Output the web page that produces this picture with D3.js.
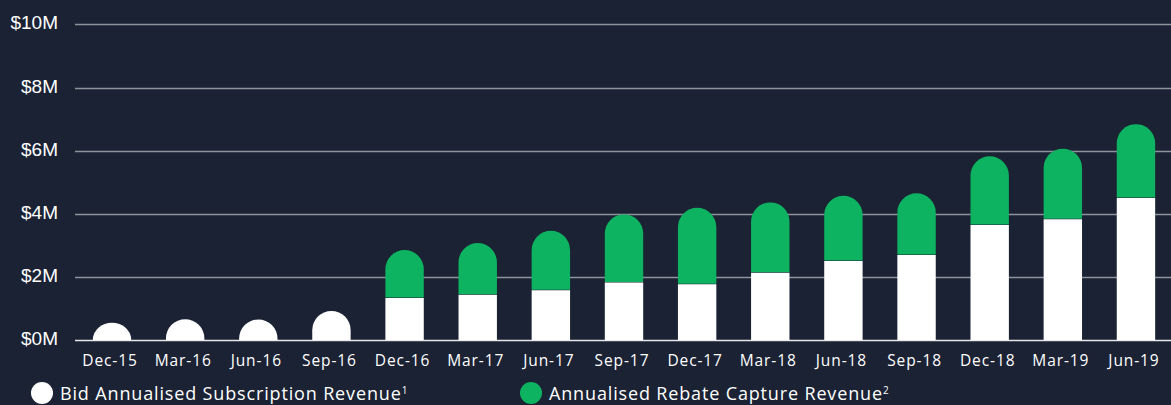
<!DOCTYPE html>
<html>
<head>
<meta charset="utf-8">
<script src="https://cdn.jsdelivr.net/npm/d3@7"></script>
<style>
  html, body { margin: 0; padding: 0; background: #1b2234; }
  svg { display: block; }
  .ytick text { font-family: "Liberation Sans", Arial, sans-serif; font-size: 19px; fill: #ffffff; }
  .xtick text { font-family: "Open Sans", sans-serif; font-size: 15.5px; letter-spacing: 0.9px; fill: #ffffff; }
  .legend text { font-family: "Open Sans", sans-serif; font-size: 18px; letter-spacing: 0.85px; fill: #ffffff; }
</style>
</head>
<body>
<svg id="chart" width="1171" height="405"></svg>
<script>
// quarters on the x axis
const quarters = ["Dec-15","Mar-16","Jun-16","Sep-16","Dec-16","Mar-17","Jun-17","Sep-17",
                  "Dec-17","Mar-18","Jun-18","Sep-18","Dec-18","Mar-19","Jun-19"]
// $M values
const subscription = [0.55, 0.66, 0.65, 0.92, 1.33, 1.43, 1.58, 1.82, 1.77, 2.13, 2.50, 2.69, 3.64, 3.83, 4.50]
const rebate       = [0,    0,    0,    0,    1.52, 1.64, 1.88, 2.16, 2.42, 2.23, 2.07, 1.96, 2.18, 2.23, 2.34]
const yTicks = [0, 2, 4, 6, 8, 10]
const legendLabels = ["Bid Annualised Subscription Revenue", "Annualised Rebate Capture Revenue"]
const legendSup = ["1", "2"]

const white = "#ffffff"
const green = "#0db360"

var svg = d3.select("#chart")

var x = d3.scaleBand().domain(quarters).range([75.5, 1172.5]).paddingInner(0.475).paddingOuter(0.237)
var y = d3.scaleLinear().domain([0, 10]).range([340, 24.4])

// grid lines + y labels
var yAxis = svg.append("g").attr("class", "ytick")
yAxis.selectAll("line").data(yTicks).enter().append("line")
   .attr("x1", 75).attr("x2", 1171)
   .attr("y1", function(d){ return Math.round(y(d)) + 0.5 })
   .attr("y2", function(d){ return Math.round(y(d)) + 0.5 })
   .attr("stroke", function(d){ return d == 0 ? "#e8e8ea" : "#8d929b" })
   .attr("stroke-width", 1.6)
yAxis.selectAll("text").data(yTicks).enter().append("text")
   .attr("x", 58).attr("y", function(d){ return y(d) + 5 })
   .attr("text-anchor", "end")
   .text(function(d){ return "$" + d + "M" })

// bar with rounded (semicircle) top
function roundTop(x0, w, yTop, yBot) {
   var r = w / 2
   var h = yBot - yTop
   var ry = Math.min(r, h)
   return "M" + x0 + "," + yBot +
      "L" + x0 + "," + (yTop + ry) +
      "A" + r + "," + ry + " 0 0 1 " + (x0 + w) + "," + (yTop + ry) +
      "L" + (x0 + w) + "," + yBot + "Z"
}

var bars = svg.append("g")
var w = x.bandwidth()

// white part (rounded only when no green on top)
bars.selectAll(".sub").data(quarters).enter().append("path")
   .attr("class", "sub")
   .attr("fill", white)
   .attr("d", function(d, i) {
      if (rebate[i] > 0) {
         return "M" + x(d) + "," + y(0) + "V" + y(subscription[i]) + "H" + (x(d) + w) + "V" + y(0) + "Z"
      }
      return roundTop(x(d), w, y(subscription[i]), y(0))
   })

bars.selectAll(".reb").data(quarters.filter(function(d, i){ return rebate[i] > 0 })).enter().append("path")
   .attr("class", "reb")
   .attr("fill", green)
   .attr("d", function(d) {
      var i = quarters.indexOf(d)
      return roundTop(x(d), w, y(subscription[i] + rebate[i]), y(subscription[i]) - 0.5)
   })

// x labels
var xAxis = svg.append("g").attr("class", "xtick")
xAxis.selectAll("text").data(quarters).enter().append("text")
   .attr("x", function(d){ return x(d) + w / 2 - 2 })
   .attr("y", 366)
   .attr("text-anchor", "middle")
   .text(function(d){ return d })

// legend
var legend = svg.append("g").attr("class", "legend")
var legX = [42, 531]
var legColors = [white, green]
legendLabels.forEach(function(label, i) {
   legend.append("circle").attr("cx", legX[i]).attr("cy", 393).attr("r", 11).attr("fill", legColors[i])
   var t = legend.append("text").attr("x", legX[i] + 18).attr("y", 399.5)
   t.append("tspan").text(label)
   t.append("tspan").attr("dy", -6).attr("font-size", 10).attr("letter-spacing", 0).text(legendSup[i])
})
</script>
</body>
</html>
